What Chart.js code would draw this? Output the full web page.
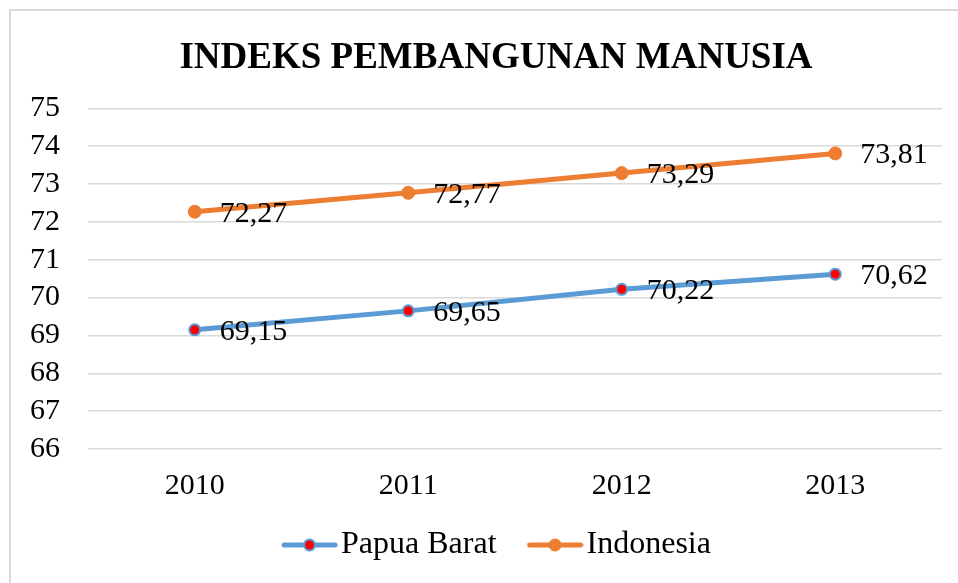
<!DOCTYPE html>
<html>
<head>
<meta charset="utf-8">
<script src="https://cdn.jsdelivr.net/npm/chart.js@4.4.1/dist/chart.umd.min.js"></script>
<style>
  html, body { margin: 0; padding: 0; background: #fff; overflow: hidden; }
  #wrap { position: relative; width: 958px; height: 583px; }
  #frame {
    position: absolute; left: 9px; top: 9px; width: 1000px; height: 1000px;
    border: 2px solid #d9d9d9; pointer-events: none;
  }
</style>
</head>
<body>
<div id="wrap">
  <canvas id="ipmChart" width="958" height="583"></canvas>
  <div id="frame"></div>
</div>
<script>
// Data
const years = ["2010", "2011", "2012", "2013"];
const papuaBarat = [69.15, 69.65, 70.22, 70.62];
const indonesia = [72.27, 72.77, 73.29, 73.81];
const yMin = 66;
const yMax = 75;

const BLUE = "#5B9BD5";
const ORANGE = "#ED7D31";
const SERIF = "'Liberation Serif', 'Times New Roman', serif";

// legend marker: line with a dot, drawn on a small canvas
// (line sits at the right end so it hugs the label text)
function legendMarker(lineColor, dotFill, dotBorder, dotR) {
  const c = document.createElement("canvas");
  c.width = 70;
  c.height = 16;
  const g = c.getContext("2d");
  const x0 = 70 - 57, x1 = 70, cy = 8;
  g.strokeStyle = lineColor;
  g.lineWidth = 5;
  g.lineCap = "round";
  g.beginPath();
  g.moveTo(x0 + 3, cy);
  g.lineTo(x1 - 3, cy);
  g.stroke();
  g.beginPath();
  g.arc((x0 + x1) / 2, cy, dotR, 0, Math.PI * 2);
  g.fillStyle = dotFill;
  g.fill();
  g.lineWidth = 2;
  g.strokeStyle = dotBorder;
  g.stroke();
  return c;
}

const markers = [
  legendMarker(BLUE, "#FF0000", BLUE, 5.5),
  legendMarker(ORANGE, ORANGE, ORANGE, 5.5)
];

// value labels to the right of each point, with decimal comma
const valueLabels = {
  id: "valueLabels",
  afterDatasetsDraw(chart) {
    const ctx = chart.ctx;
    ctx.save();
    ctx.font = "30px " + SERIF;
    ctx.fillStyle = "#000";
    ctx.textAlign = "left";
    ctx.textBaseline = "middle";
    chart.data.datasets.forEach((ds, i) => {
      chart.getDatasetMeta(i).data.forEach((pt, j) => {
        const txt = ds.data[j].toFixed(2).replace(".", ",");
        ctx.fillText(txt, pt.x + 25, pt.y + 2);
      });
    });
    ctx.restore();
  }
};

const ctx = document.getElementById("ipmChart").getContext("2d");
new Chart(ctx, {
  type: "line",
  data: {
    labels: years,
    datasets: [
      {
        label: "Papua Barat",
        data: papuaBarat,
        borderColor: BLUE,
        borderWidth: 5,
        pointRadius: 5.5,
        pointBorderWidth: 2,
        pointBackgroundColor: "#FF0000",
        pointBorderColor: BLUE,
        tension: 0
      },
      {
        label: "Indonesia",
        data: indonesia,
        borderColor: ORANGE,
        borderWidth: 5,
        pointRadius: 6.5,
        pointBorderWidth: 1,
        pointBackgroundColor: ORANGE,
        pointBorderColor: ORANGE,
        tension: 0
      }
    ]
  },
  options: {
    responsive: false,
    animation: false,
    layout: { padding: { left: 50, right: 16, top: 36, bottom: 12 } },
    plugins: {
      title: {
        display: true,
        text: "INDEKS PEMBANGUNAN MANUSIA",
        color: "#000",
        font: { family: SERIF, size: 37, weight: "bold" },
        padding: { top: 0, bottom: 28 }
      },
      legend: {
        position: "bottom",
        labels: {
          usePointStyle: true,
          pointStyleWidth: 44,
          padding: 30,
          color: "#000",
          font: { family: SERIF, size: 32 },
          generateLabels(chart) {
            return chart.data.datasets.map((ds, i) => ({
              text: ds.label,
              datasetIndex: i,
              pointStyle: markers[i],
              fillStyle: ds.borderColor,
              strokeStyle: ds.borderColor,
              lineWidth: 0,
              fontColor: "#000",
              hidden: false
            }));
          }
        }
      },
      tooltip: { enabled: false }
    },
    scales: {
      x: {
        offset: true,
        grid: { display: false },
        border: { display: false },
        ticks: { color: "#000", padding: 11, autoSkip: false, font: { family: SERIF, size: 30 } },
        afterFit(scale) { scale.height = 50; }
      },
      y: {
        min: yMin,
        max: yMax,
        border: { display: false },
        grid: { color: "#d9d9d9", lineWidth: 1.5, drawTicks: false },
        // mirrored + negative padding puts the labels left of the plot without clipping
        ticks: {
          stepSize: 1, autoSkip: false, color: "#000",
          mirror: true, crossAlign: "far", padding: -58,
          font: { family: SERIF, size: 30 }
        },
        afterFit(scale) { scale.width = 38; }
      }
    }
  },
  plugins: [valueLabels]
});
</script>
</body>
</html>
